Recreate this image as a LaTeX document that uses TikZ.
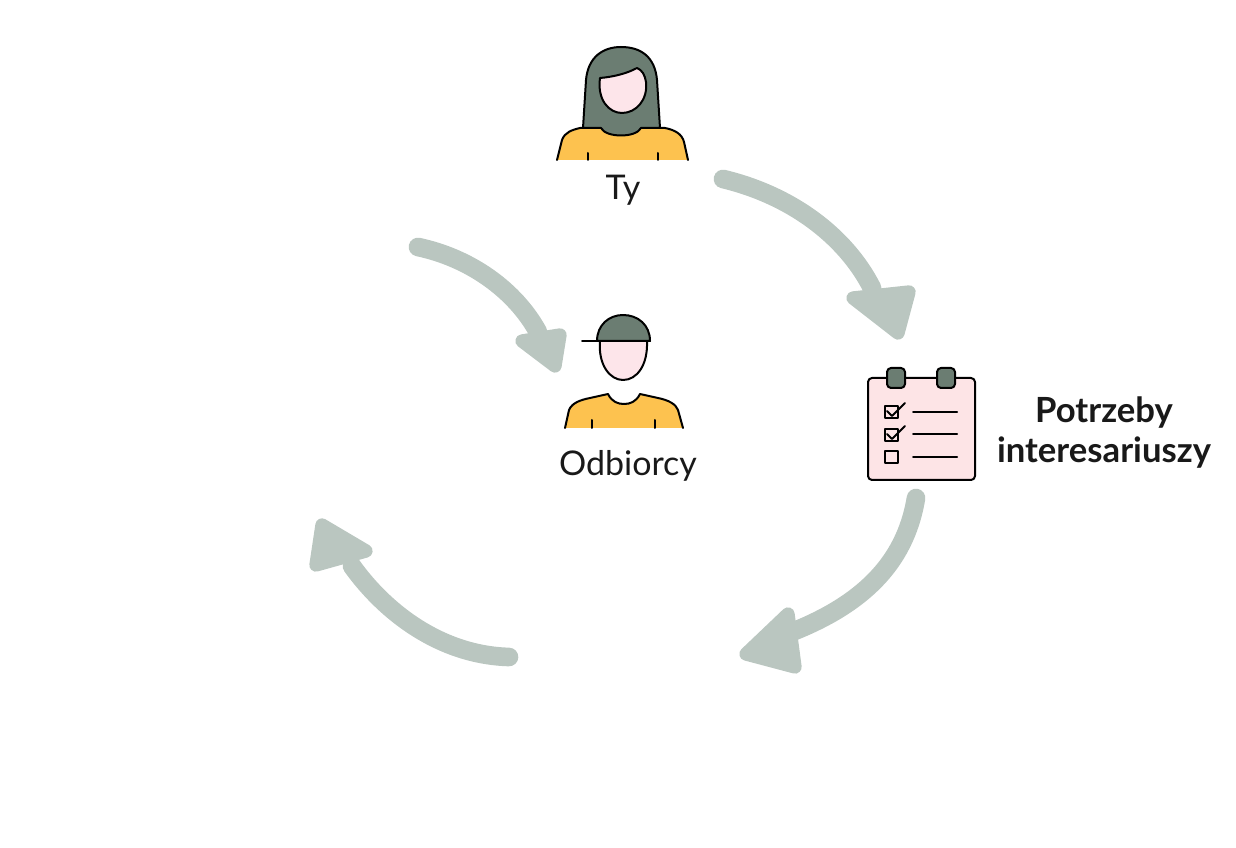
\documentclass[tikz,border=0pt]{standalone}
\usepackage{fontspec}
\setmainfont{Lato}
\definecolor{arrowc}{HTML}{BAC6C0}
\definecolor{hairc}{HTML}{6B7D72}
\definecolor{shirtc}{HTML}{FDC24F}
\definecolor{skinc}{HTML}{FDE5EA}
\definecolor{boardc}{HTML}{FDE4E6}
\begin{document}
\begin{tikzpicture}[x=0.75pt,y=-0.75pt,
  arrowshaft/.style={draw=arrowc, line width=14pt, line cap=round},
  arrowhead/.style={fill=arrowc, draw=arrowc, line width=10pt, line join=round},
  outl/.style={draw=black, line width=1.5pt, line join=round, line cap=round},
  lbl/.style={font=\fontsize{25.5}{30}\selectfont, text=black!90, inner sep=0pt},
  blbl/.style={font=\bfseries\fontsize{26}{30}\selectfont, text=black!90, align=center, inner sep=0pt}]
\useasboundingbox (0,0) rectangle (1236,848);

% ---------- arrows ----------
\coordinate (a1s) at (723,179);
\coordinate (a1e) at (872,288);
\draw[arrowshaft] (a1s) .. controls (790,195) and (845,235) .. (a1e);
\fill[arrowhead] (853,298) -- (909,292) -- (898,333) -- cycle;

\coordinate (a2s) at (916,498);
\coordinate (a2e) at (792,632);
\draw[arrowshaft] (a2s) .. controls (905,565) and (860,605) .. (a2e);
\fill[arrowhead] (788,614) -- (795,667) -- (746,654) -- cycle;

\coordinate (a3s) at (509,657);
\coordinate (a3e) at (352,566);
\draw[arrowshaft] (a3s) .. controls (440,655) and (385,612) .. (a3e);
\fill[arrowhead] (322,525) -- (316,565) -- (366,551) -- cycle;

\coordinate (a4s) at (418,247);
\coordinate (a4e) at (538,332);
\draw[arrowshaft] (a4s) .. controls (470,258) and (515,290) .. (a4e);
\fill[arrowhead] (522,341) -- (560,335) -- (555,366) -- cycle;

% ---------- woman (Ty) ----------
\filldraw[fill=shirtc, draw=none] (557,160) -- (562,140) .. controls (565,132) and (572,130) .. (580,128) -- (665,128) .. controls (675,130) and (682,134) .. (684,142) -- (688,160) -- cycle;
\draw[outl] (557,160) -- (562,140) .. controls (565,132) and (572,130) .. (580,128) -- (665,128) .. controls (675,130) and (682,134) .. (684,142) -- (688,160);
\draw[outl] (588,153) -- (588,160);
\draw[outl] (658,153) -- (658,160);
\filldraw[outl, fill=hairc] (583,128) -- (586,80) .. controls (588,57) and (603,47) .. (621,47) .. controls (641,47) and (655,57) .. (657,80) -- (660,128) -- (641,128) .. controls (636,138) and (606,138) .. (601,128) -- cycle;
\filldraw[outl, fill=skinc] (600,78) .. controls (597,100) and (609,113) .. (622,113) .. controls (636,113) and (648,100) .. (646,82) .. controls (645,75) and (642,70) .. (637,68) .. controls (626,74) and (612,77) .. (600,78) -- cycle;
\node[lbl] (ty) at (623,190) {Ty};

% ---------- man (Odbiorcy) ----------
\filldraw[fill=shirtc, draw=none] (565,428) -- (569,410) .. controls (572,403) and (580,400) .. (590,398) -- (608,394) .. controls (612,402) and (618,404) .. (624,404) .. controls (630,404) and (636,402) .. (640,394) -- (658,398) .. controls (668,400) and (676,404) .. (678,410) -- (683,428) -- cycle;
\draw[outl] (565,428) -- (569,410) .. controls (572,403) and (580,400) .. (590,398) -- (608,394) .. controls (612,402) and (618,404) .. (624,404) .. controls (630,404) and (636,402) .. (640,394) -- (658,398) .. controls (668,400) and (676,404) .. (678,410) -- (683,428);
\draw[outl] (592,420) -- (592,428);
\draw[outl] (655,420) -- (655,428);
\filldraw[outl, fill=skinc] (600,341) .. controls (598,365) and (610,380) .. (623,380) .. controls (637,380) and (648,365) .. (647,341);
\filldraw[outl, fill=hairc] (597,341) .. controls (597,325) and (609,315) .. (623,315) .. controls (638,315) and (650,325) .. (650,341) -- cycle;
\draw[outl] (582,341) -- (650,341);
\node[lbl] (odb) at (628,466) {Odbiorcy};

% ---------- clipboard ----------
\filldraw[outl, fill=boardc, rounded corners=3pt] (868,378) rectangle (975,480);
\filldraw[outl, fill=hairc, rounded corners=3pt] (887,368) rectangle (905,388);
\filldraw[outl, fill=hairc, rounded corners=3pt] (937,368) rectangle (955,388);
\draw[outl] (885,406) rectangle (898,418);
\draw[outl] (887,411) -- (892,416) -- (905,403);
\draw[outl] (913,412) -- (957,412);
\draw[outl] (885,429) rectangle (898,441);
\draw[outl] (887,434) -- (892,439) -- (905,426);
\draw[outl] (913,434) -- (957,434);
\draw[outl] (885,451) rectangle (898,463);
\draw[outl] (913,457) -- (957,457);
\node[blbl] (potrz) at (1104,433) {Potrzeby\\interesariuszy};
\end{tikzpicture}
\end{document}
